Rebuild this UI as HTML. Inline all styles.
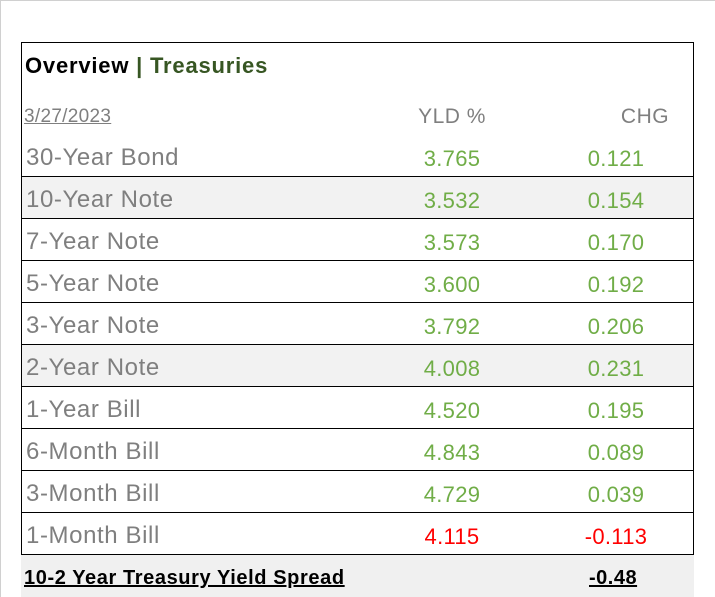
<!DOCTYPE html>
<html><head><style>
body{margin:0;width:715px;height:597px;background:#fff;position:relative;overflow:hidden;font-family:"Liberation Sans",sans-serif}
.frame{position:absolute;left:0;top:0;width:715px;height:597px;border-top:1px solid #d0d0d0;border-left:1px solid #d0d0d0;box-sizing:border-box}
.box{position:absolute;left:21px;top:42px;width:673px;height:513px;border:1px solid #000;box-sizing:border-box}
.t{position:absolute;white-space:nowrap}
.row{position:absolute;left:21px;width:673px;height:42px;border-bottom:1px solid #000;box-sizing:border-box}
.lab{position:absolute;left:5px;top:9px;font-size:24px;letter-spacing:0.6px;color:#7f7f7f}
.y{position:absolute;left:376px;width:110px;text-align:center;top:11px;font-size:22px;letter-spacing:0.3px;color:#70ad47}
.c{position:absolute;left:540px;width:110px;text-align:center;top:11px;font-size:22px;letter-spacing:0.3px;color:#70ad47}
.r{color:#ff0000}
</style></head><body>
<div class="frame"></div>
<div class="t" style="left:25px;top:53px;font-size:22px;letter-spacing:0.8px;font-weight:bold;color:#000">Overview <span style="color:#375623">| Treasuries</span></div>
<div class="t" style="left:24px;top:106px;font-size:19px;letter-spacing:0.3px;color:#7f7f7f;text-decoration:underline">3/27/2023</div>
<div class="t" style="left:397px;top:105px;width:110px;text-align:center;font-size:21px;letter-spacing:0.5px;color:#7f7f7f">YLD %</div>
<div class="t" style="left:590px;top:105px;width:110px;text-align:center;font-size:21px;letter-spacing:0.5px;color:#7f7f7f">CHG</div>
<div class="row" style="top:135px"><span class="lab">30-Year Bond</span><span class="y">3.765</span><span class="c">0.121</span></div>
<div class="row" style="top:177px;background:#f2f2f2"><span class="lab">10-Year Note</span><span class="y">3.532</span><span class="c">0.154</span></div>
<div class="row" style="top:219px"><span class="lab">7-Year Note</span><span class="y">3.573</span><span class="c">0.170</span></div>
<div class="row" style="top:261px"><span class="lab">5-Year Note</span><span class="y">3.600</span><span class="c">0.192</span></div>
<div class="row" style="top:303px"><span class="lab">3-Year Note</span><span class="y">3.792</span><span class="c">0.206</span></div>
<div class="row" style="top:345px;background:#f2f2f2"><span class="lab">2-Year Note</span><span class="y">4.008</span><span class="c">0.231</span></div>
<div class="row" style="top:387px"><span class="lab">1-Year Bill</span><span class="y">4.520</span><span class="c">0.195</span></div>
<div class="row" style="top:429px"><span class="lab">6-Month Bill</span><span class="y">4.843</span><span class="c">0.089</span></div>
<div class="row" style="top:471px"><span class="lab">3-Month Bill</span><span class="y">4.729</span><span class="c">0.039</span></div>
<div class="row" style="top:513px"><span class="lab">1-Month Bill</span><span class="y r">4.115</span><span class="c r">-0.113</span></div>
<div class="box"></div>
<div style="position:absolute;left:21px;top:555px;width:673px;height:42px;background:#f0f0f0"></div>
<div class="t" style="left:24px;top:567px;font-size:20px;letter-spacing:0.6px;font-weight:bold;text-decoration:underline;color:#000">10-2 Year Treasury Yield Spread</div>
<div class="t" style="left:589px;top:567px;font-size:20px;letter-spacing:0.5px;font-weight:bold;text-decoration:underline;color:#000">-0.48</div>
</body></html>
